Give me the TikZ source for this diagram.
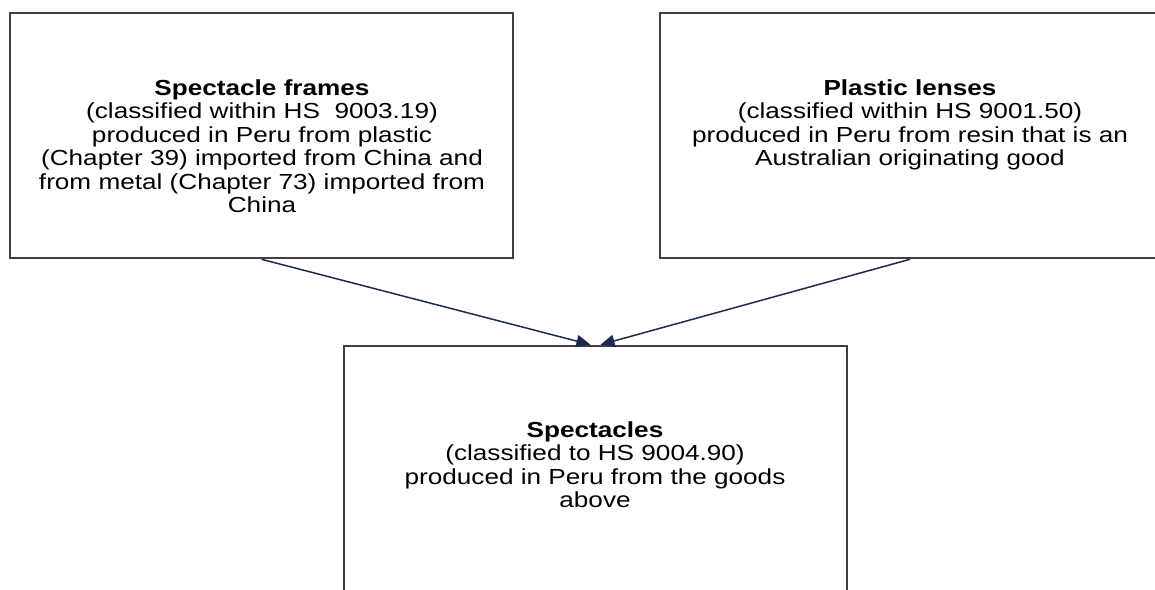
\documentclass[tikz,border=0pt]{standalone}
\usepackage{fontspec}
\setmainfont{Liberation Sans}[FakeStretch=1.2]
\usepackage{tikz}
\usetikzlibrary{arrows.meta,positioning,calc}
\definecolor{boxline}{RGB}{65,65,65}
\definecolor{navyline}{RGB}{28,42,78}

\begin{document}
\begin{tikzpicture}[
      x=0.02cm, y=-0.02cm,
      goodbox/.style={rectangle, draw=boxline, line width=1.5pt, fill=white,
                      minimum width=10.06cm, minimum height=4.9cm, inner sep=0pt},
      goodtext/.style={align=center, anchor=north, inner sep=0pt,
                       font=\fontsize{12.4}{13.4}\selectfont},
      arrow/.style={draw=navyline, line width=0.85pt,
                    -{Triangle[length=8pt, width=7pt]}}
    ]
      \clip (0,0) rectangle (1155,590);
      %% Input goods
      \node[goodbox] (framesbox) at (261.5, 135.5) {};
      \node[goodbox, minimum width=10cm] (lensbox) at (910, 135.5) {};
      %% Final good
      \node[goodbox, minimum height=5.1cm] (specsbox) at (595.5, 473.5) {};
      %% Box texts
      \node[goodtext] (framestext) at (262, 79)
            {\textbf{Spectacle frames}\\(classified within HS\ \ 9003.19)\\
             produced in Peru from plastic\\(Chapter 39) imported from China and\\
             from metal (Chapter 73) imported from\\China};
      \node[goodtext] (lenstext) at (910, 79)
            {\textbf{Plastic lenses}\\(classified within HS 9001.50)\\
             produced in Peru from resin that is an\\Australian originating good};
      \node[goodtext] (specstext) at (595, 421)
            {\textbf{Spectacles}\\(classified to HS 9004.90)\\
             produced in Peru from the goods\\above};
      %% Connectors
      \coordinate (framesin) at ($(specsbox.north)+(-5,0)$);
      \coordinate (lensin) at ($(specsbox.north)+(5,0)$);
      \draw[arrow] (framesbox.south) -- (framesin);
      \draw[arrow] (lensbox.south) -- (lensin);
    \end{tikzpicture}
\end{document}
